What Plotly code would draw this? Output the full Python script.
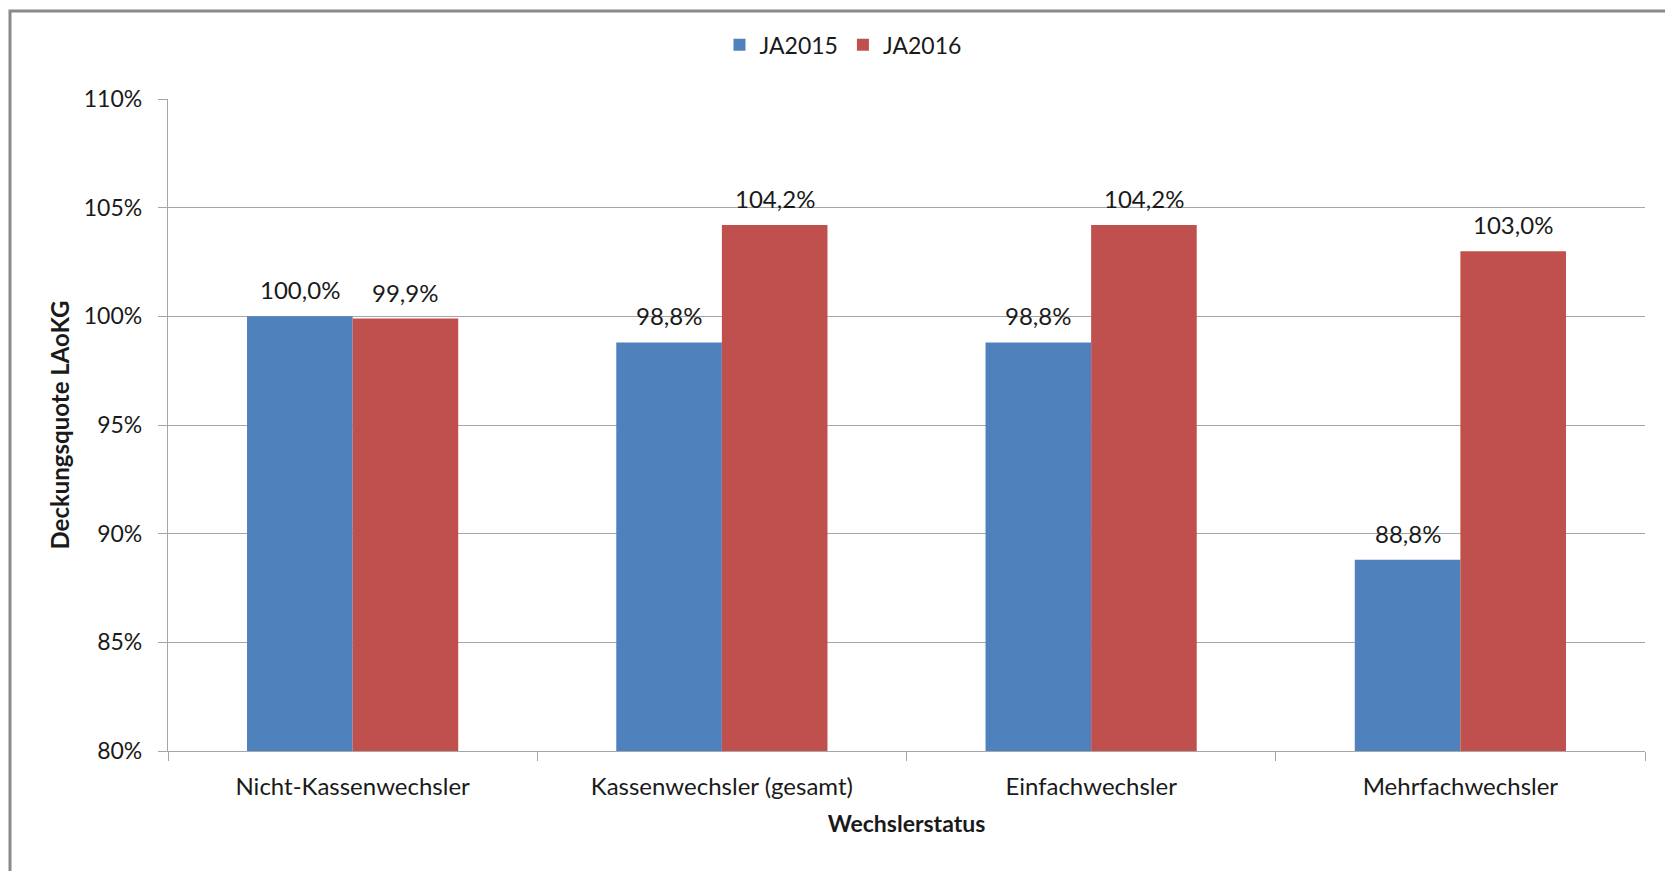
import plotly.graph_objects as go

# Daten
categories = ['Nicht-Kassenwechsler', 'Kassenwechsler (gesamt)', 'Einfachwechsler', 'Mehrfachwechsler']
ja2015 = [1.000, 0.988, 0.988, 0.888]
ja2016 = [0.999, 1.042, 1.042, 1.030]
series_names = ['JA2015', 'JA2016']
y_ticks = [0.80, 0.85, 0.90, 0.95, 1.00, 1.05, 1.10]

FONT = 'Lato, Liberation Sans, sans-serif'
blue = '#4F81BD'
red = '#C0504D'

W, H = 1665, 863            # body has 8px margin in the html page
M = dict(l=160, r=28, t=91, b=120)
BARGAP = 0.428

fig = go.Figure()
for name, vals, col in zip(series_names, [ja2015, ja2016], [blue, red]):
    fig.add_trace(go.Bar(
        x=categories,
        y=vals,
        name=name,
        marker=dict(color=col, line=dict(width=0)),
        hoverinfo='x+y+name',
    ))

# Datenbeschriftungen über den Balken
plot_w = W - M['l'] - M['r']
bar_w = plot_w / len(categories) * (1 - BARGAP) / 2
for i, vals in enumerate([ja2015, ja2016]):
    shift = (i - 0.5) * bar_w
    for cat, v in zip(categories, vals):
        fig.add_annotation(
            x=cat, y=v, xref='x', yref='y',
            text=f'{v * 100:.1f}%'.replace('.', ','),
            showarrow=False, xshift=shift, yshift=10, yanchor='bottom',
            font=dict(size=24, color='#1a1a1a', family=FONT),
        )

fig.update_layout(
    width=W, height=H,
    margin=M,
    paper_bgcolor='white', plot_bgcolor='white',
    separators=',.',
    barmode='group', bargap=BARGAP, bargroupgap=0,
    font=dict(family=FONT, size=22, color='#1a1a1a'),
    showlegend=True,
    legend=dict(orientation='h', x=0.457, xanchor='center', y=1.083, yanchor='middle',
                font=dict(size=23), itemwidth=30, traceorder='normal'),
)

fig.update_yaxes(
    range=[0.80, 1.10], tickvals=y_ticks, tickformat='.0%',
    showgrid=True, gridcolor='#a6a6a6', gridwidth=1.3,
    showline=True, linecolor='#a6a6a6', linewidth=1.3,
    ticks='outside', ticklen=9, tickcolor='#a6a6a6',
    tickfont=dict(size=23),
    ticklabelstandoff=11,
    zeroline=False,
    title=dict(text='<b>Deckungsquote LAoKG</b>', font=dict(size=24), standoff=7),
    automargin=False,
)
fig.update_xaxes(
    showline=True, linecolor='#a6a6a6', linewidth=1.3,
    ticks='outside', ticklen=9, tickcolor='#a6a6a6', tickson='boundaries',
    tickfont=dict(size=24),
    ticklabelstandoff=14,
    title=dict(text='<b>Wechslerstatus</b>', font=dict(size=23), standoff=16),
    automargin=False,
)

# äußerer Rahmen des Diagramms
plot_h = H - M['t'] - M['b']
fig.add_shape(type='rect', xref='paper', yref='paper',
              x0=-(M['l'] - 2) / plot_w, x1=1 + (M['r'] - 1) / plot_w,
              y0=-0.25, y1=1 + (M['t'] - 3) / plot_h,
              line=dict(color='#8a8a8a', width=3), layer='below')

fig.write_html('out.html')
